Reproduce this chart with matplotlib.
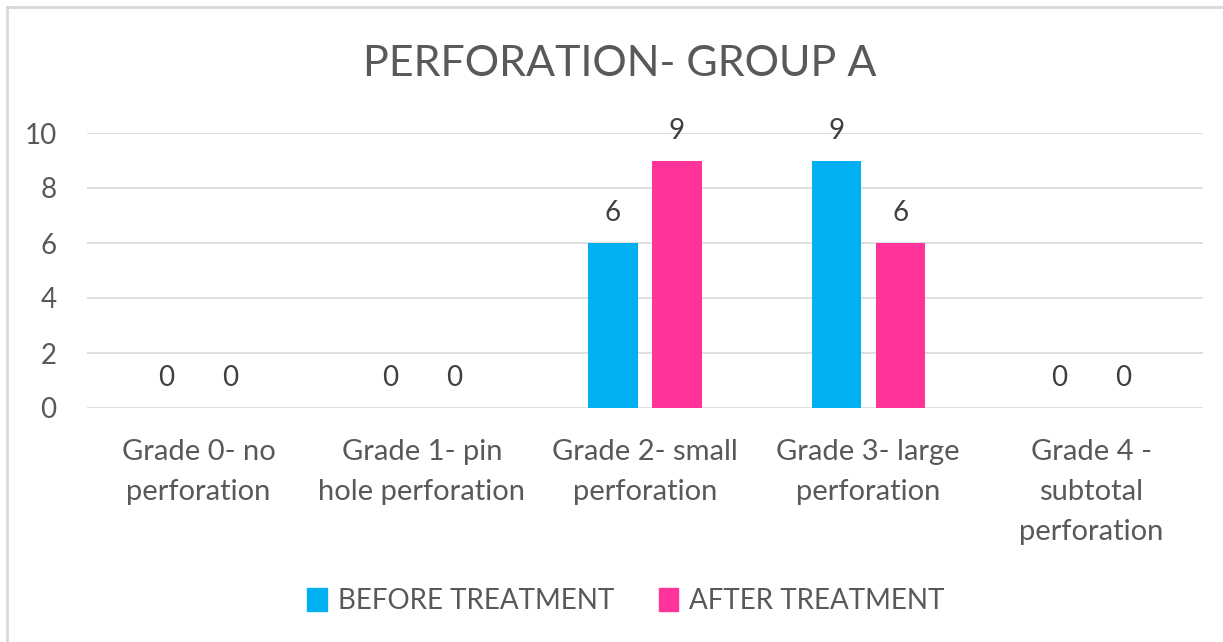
import numpy as np
import matplotlib.pyplot as plt
from matplotlib.lines import Line2D

# data
categories = ['Grade 0- no\nperforation', 'Grade 1- pin\nhole perforation',
              'Grade 2- small\nperforation', 'Grade 3- large\nperforation',
              'Grade 4 -\nsubtotal\nperforation']
before = [0, 0, 6, 9, 0]
after = [0, 0, 9, 6, 0]
series_names = ['BEFORE TREATMENT', 'AFTER TREATMENT']
yticks = [0, 2, 4, 6, 8, 10]

plt.rcParams['font.family'] = ['Lato', 'DejaVu Sans']
txt = '#595959'

fig = plt.figure(figsize=(12.23, 6.42), dpi=100)
ax = fig.add_axes([87/1223, 1-408/642, 1116/1223, 275/642])

x = np.arange(len(categories))
w = 0.22
off = 0.1435
b1 = ax.bar(x - off, before, w, color='#00B0F0', zorder=3)
b2 = ax.bar(x + off, after, w, color='#FF3399', zorder=3)
for bars in (b1, b2):
    for r in bars:
        ax.annotate(f'{r.get_height():g}', (r.get_x() + r.get_width()/2, r.get_height()),
                    xytext=(0, 21.5), textcoords='offset points', ha='center', va='center',
                    fontsize=20, color='#404040')

ax.set_xlim(-0.5, 4.5)
ax.set_ylim(0, 10)
ax.set_yticks(yticks)
ax.set_xticks(x)
ax.set_xticklabels(categories, fontsize=21, color=txt, linespacing=1.68)
ax.tick_params(axis='y', labelsize=20, colors=txt, length=0, pad=22)
ax.tick_params(axis='x', length=0, pad=22)
ax.grid(axis='y', color='#d9d9d9', lw=1.2, zorder=0)
for s in ax.spines.values():
    s.set_visible(False)

fig.text(620/1223, 1-64/642, 'PERFORATION- GROUP A', ha='center', va='center', fontsize=31, color=txt)

handles = [plt.Rectangle((0, 0), 1, 1, color='#00B0F0'), plt.Rectangle((0, 0), 1, 1, color='#FF3399')]
fig.legend(handles, series_names, loc='center', bbox_to_anchor=(626/1223, 1-601/642), ncol=2,
           frameon=False, fontsize=20, labelcolor=txt, handlelength=0.7, handleheight=0.9,
           handletextpad=0.4, columnspacing=1.6)

# chart frame (top and left edges visible)
fig.add_artist(Line2D([7/1223, 1], [1-7/642, 1-7/642], color='#d9d9d9', lw=2))
fig.add_artist(Line2D([7/1223, 7/1223], [0, 1-7/642], color='#d9d9d9', lw=2))

fig.savefig('out.png', dpi=100)
